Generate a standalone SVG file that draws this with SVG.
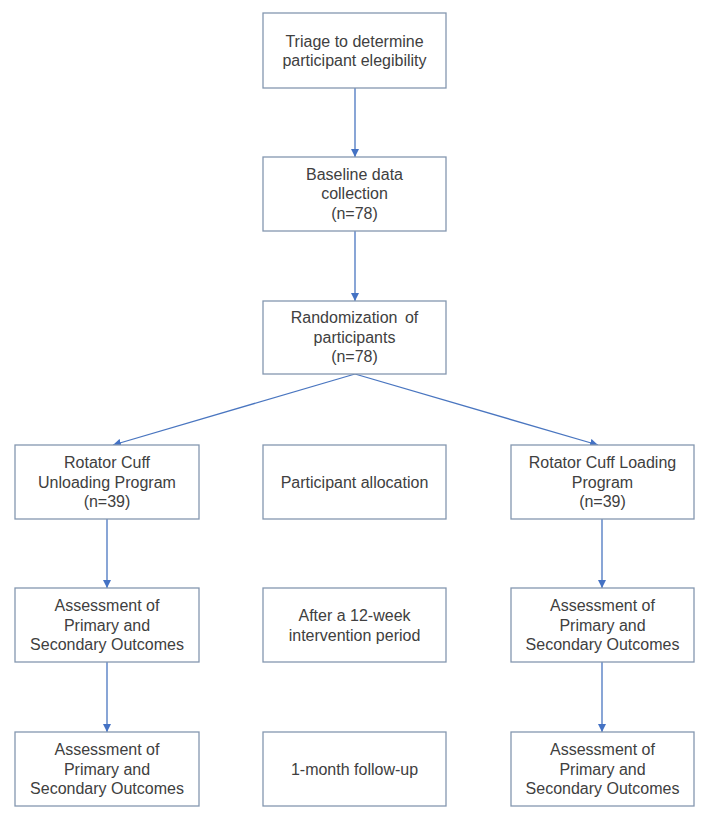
<svg xmlns="http://www.w3.org/2000/svg" width="708" height="823" viewBox="0 0 708 823">
<style>
.box{fill:#fff;stroke:#8497b0;stroke-width:1.3}
.t{font-family:"Liberation Sans",Arial,sans-serif;font-size:16px;fill:#404040;text-anchor:middle}
.c{fill:none;stroke:#4a76c0;stroke-width:1.3}
</style>
<defs>
<marker id="ah" viewBox="0 0 10 10" refX="10" refY="5" markerWidth="8" markerHeight="8" markerUnits="userSpaceOnUse" orient="auto">
<path d="M0,0 L10,5 L0,10 z" fill="#4472c4"/>
</marker>
</defs>
<rect width="708" height="823" fill="#fff"/>
<g id="connectors">
<line class="c" x1="355" y1="88" x2="355" y2="157" marker-end="url(#ah)"/>
<line class="c" x1="355" y1="231" x2="355" y2="301" marker-end="url(#ah)"/>
<line class="c" x1="355" y1="374" x2="113" y2="445" marker-end="url(#ah)"/>
<line class="c" x1="355" y1="374" x2="598" y2="445" marker-end="url(#ah)"/>
<line class="c" x1="107" y1="519" x2="107" y2="588" marker-end="url(#ah)"/>
<line class="c" x1="107" y1="662" x2="107" y2="732" marker-end="url(#ah)"/>
<line class="c" x1="602" y1="519" x2="602" y2="588" marker-end="url(#ah)"/>
<line class="c" x1="602" y1="662" x2="602" y2="732" marker-end="url(#ah)"/>
</g>
<g id="triage">
<rect class="box" x="263" y="13" width="183" height="75"/>
<text class="t" x="354.5" y="46.5">Triage to determine</text>
<text class="t" x="354.5" y="66">participant elegibility</text>
</g>
<g id="baseline">
<rect class="box" x="263" y="157" width="183" height="74"/>
<text class="t" x="354.5" y="179.5">Baseline data</text>
<text class="t" x="354.5" y="199">collection</text>
<text class="t" x="354.5" y="218.5">(n=78)</text>
</g>
<g id="randomization">
<rect class="box" x="263" y="301" width="183" height="73"/>
<text class="t" x="354.5" y="323" word-spacing="3">Randomization of</text>
<text class="t" x="354.5" y="342.5">participants</text>
<text class="t" x="354.5" y="362">(n=78)</text>
</g>
<g id="unloading">
<rect class="box" x="15" y="445" width="184" height="74"/>
<text class="t" x="107" y="468">Rotator Cuff</text>
<text class="t" x="107" y="487.5">Unloading Program</text>
<text class="t" x="107" y="507">(n=39)</text>
</g>
<g id="allocation">
<rect class="box" x="263" y="445" width="183" height="74"/>
<text class="t" x="354.5" y="487.5">Participant allocation</text>
</g>
<g id="loading">
<rect class="box" x="511" y="445" width="183" height="74"/>
<text class="t" x="602.5" y="468">Rotator Cuff Loading</text>
<text class="t" x="602.5" y="487.5">Program</text>
<text class="t" x="602.5" y="507">(n=39)</text>
</g>
<g id="assess-left-1">
<rect class="box" x="15" y="588" width="184" height="74"/>
<text class="t" x="107" y="611">Assessment of</text>
<text class="t" x="107" y="630.5">Primary and</text>
<text class="t" x="107" y="650">Secondary Outcomes</text>
</g>
<g id="intervention">
<rect class="box" x="263" y="588" width="183" height="74"/>
<text class="t" x="354.5" y="621">After a 12-week</text>
<text class="t" x="354.5" y="640.5">intervention period</text>
</g>
<g id="assess-right-1">
<rect class="box" x="511" y="588" width="183" height="74"/>
<text class="t" x="602.5" y="611">Assessment of</text>
<text class="t" x="602.5" y="630.5">Primary and</text>
<text class="t" x="602.5" y="650">Secondary Outcomes</text>
</g>
<g id="assess-left-2">
<rect class="box" x="15" y="732" width="184" height="74"/>
<text class="t" x="107" y="755">Assessment of</text>
<text class="t" x="107" y="774.5">Primary and</text>
<text class="t" x="107" y="794">Secondary Outcomes</text>
</g>
<g id="followup">
<rect class="box" x="263" y="732" width="183" height="74"/>
<text class="t" x="354.5" y="774.5">1-month follow-up</text>
</g>
<g id="assess-right-2">
<rect class="box" x="511" y="732" width="183" height="74"/>
<text class="t" x="602.5" y="755">Assessment of</text>
<text class="t" x="602.5" y="774.5">Primary and</text>
<text class="t" x="602.5" y="794">Secondary Outcomes</text>
</g>
</svg>
